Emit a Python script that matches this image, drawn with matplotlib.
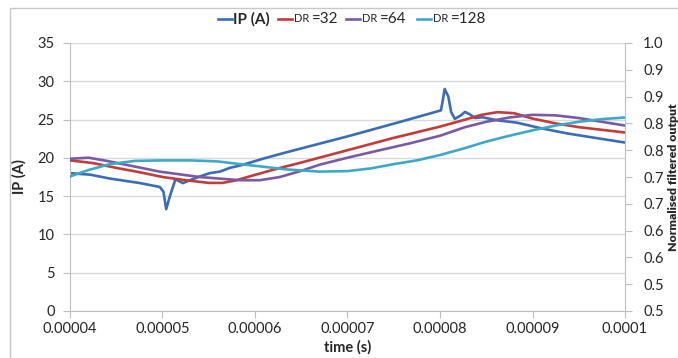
import matplotlib
matplotlib.use("Agg")
import matplotlib.pyplot as plt
from matplotlib.patches import Rectangle
from matplotlib.lines import Line2D

plt.rcParams['font.family'] = ['Lato', 'DejaVu Sans']

# Probe current (primary axis)
ip_time = [4.00e-5, 4.22e-5, 4.43e-5, 4.76e-5, 4.97e-5, 5.01e-5, 5.04e-5, 5.08e-5,
           5.14e-5, 5.22e-5, 5.30e-5, 5.41e-5, 5.51e-5, 5.62e-5, 5.73e-5, 5.84e-5,
           6.09e-5, 6.27e-5, 6.49e-5, 7.03e-5, 7.57e-5, 8.01e-5, 8.03e-5, 8.05e-5,
           8.09e-5, 8.12e-5, 8.16e-5, 8.22e-5, 8.27e-5, 8.32e-5, 8.38e-5, 8.46e-5,
           8.62e-5, 8.83e-5, 9.08e-5, 9.37e-5, 9.84e-5, 1.00e-4]
ip_amps = [18.0, 17.8, 17.3, 16.7, 16.2, 15.6, 13.3, 15.0,
           17.2, 16.7, 17.1, 17.6, 18.0, 18.2, 18.7, 19.0,
           19.9, 20.5, 21.2, 22.9, 24.7, 26.2, 27.5, 29.0,
           28.0, 26.0, 25.1, 25.5, 26.0, 25.7, 25.2, 25.3,
           24.9, 24.6, 23.9, 23.2, 22.3, 22.0]

# Filtered outputs (secondary axis, normalised)
dr32_time = [4.00e-5, 4.25e-5, 4.50e-5, 4.75e-5, 5.00e-5, 5.25e-5, 5.50e-5, 5.65e-5,
             5.80e-5, 6.00e-5, 6.25e-5, 6.50e-5, 7.00e-5, 7.50e-5, 8.00e-5, 8.25e-5,
             8.45e-5, 8.62e-5, 8.80e-5, 9.00e-5, 9.25e-5, 9.50e-5, 9.75e-5, 1.00e-4]
dr32 = [0.781, 0.776, 0.767, 0.759, 0.750, 0.744, 0.739, 0.739,
        0.744, 0.754, 0.766, 0.777, 0.800, 0.823, 0.844, 0.856,
        0.866, 0.871, 0.869, 0.859, 0.850, 0.843, 0.838, 0.833]

dr64_time = [4.00e-5, 4.20e-5, 4.40e-5, 4.60e-5, 4.97e-5, 5.40e-5, 5.84e-5, 6.05e-5,
             6.27e-5, 6.49e-5, 6.70e-5, 7.00e-5, 7.35e-5, 7.68e-5, 8.00e-5, 8.27e-5,
             8.50e-5, 8.75e-5, 9.00e-5, 9.25e-5, 9.50e-5, 9.75e-5, 1.00e-4]
dr64 = [0.784, 0.786, 0.780, 0.773, 0.760, 0.750, 0.744, 0.744,
        0.750, 0.761, 0.773, 0.786, 0.800, 0.813, 0.827, 0.843,
        0.853, 0.861, 0.866, 0.865, 0.860, 0.853, 0.846]

dr128_time = [4.00e-5, 4.20e-5, 4.43e-5, 4.70e-5, 5.00e-5, 5.30e-5, 5.60e-5, 5.84e-5,
              6.10e-5, 6.35e-5, 6.70e-5, 7.00e-5, 7.25e-5, 7.50e-5, 7.75e-5, 8.00e-5,
              8.25e-5, 8.50e-5, 8.75e-5, 9.00e-5, 9.25e-5, 9.50e-5, 9.75e-5, 1.00e-4]
dr128 = [0.751, 0.763, 0.774, 0.780, 0.781, 0.781, 0.779, 0.774,
         0.769, 0.764, 0.760, 0.761, 0.766, 0.774, 0.781, 0.791,
         0.803, 0.816, 0.827, 0.837, 0.846, 0.853, 0.858, 0.861]

x_ticks = [4e-5, 5e-5, 6e-5, 7e-5, 8e-5, 9e-5, 1e-4]
x_labels = ['0.00004', '0.00005', '0.00006', '0.00007', '0.00008', '0.00009', '0.0001']
left_ticks = [0, 5, 10, 15, 20, 25, 30, 35]
right_ticks = [0.50, 0.55, 0.60, 0.65, 0.70, 0.75, 0.80, 0.85, 0.90, 0.95, 1.00]
right_labels = ['0.5', '0.5', '0.6', '0.6', '0.7', '0.7', '0.8', '0.8', '0.9', '0.9', '1.0']
series_names = ['IP (A)', 'DR', 'DR', 'DR']
series_suffix = ['', '=32', '=64', '=128']

BLUE = '#3A6DB5'
RED = '#C23D3A'
PURPLE = '#7A5AA3'
AQUA = '#3DA9C7'
GRID = '#D9D9D9'
AXIS = '#BFBFBF'
TEXT = '#262626'

W, H = 678, 358
fig = plt.figure(figsize=(W / 100, H / 100), dpi=100)
fig.patch.set_facecolor('white')
fig.patches.append(Rectangle((10 / W, -0.1), 1.2, 1.1 - 8 / H,
                             transform=fig.transFigure, fill=False,
                             edgecolor='#C8C8C8', linewidth=1.0))

ax = fig.add_axes([70 / W, 1 - 311 / H, 555 / W, 268 / H])
ax2 = ax.twinx()

l_ip, = ax.plot(ip_time, ip_amps, color=BLUE, lw=1.9, solid_joinstyle='round')
l32, = ax2.plot(dr32_time, dr32, color=RED, lw=1.9, solid_joinstyle='round')
l64, = ax2.plot(dr64_time, dr64, color=PURPLE, lw=1.9, solid_joinstyle='round')
l128, = ax2.plot(dr128_time, dr128, color=AQUA, lw=1.9, solid_joinstyle='round')

ax.set_xlim(4e-5, 1e-4)
ax.set_ylim(0, 35)
ax2.set_ylim(0.5, 1.0)

ax.set_xticks(x_ticks)
ax.set_xticklabels(x_labels)
ax.set_yticks(left_ticks)
ax.set_yticklabels([str(v) for v in left_ticks])
ax2.set_yticks(right_ticks)
ax2.set_yticklabels(right_labels)

ax.yaxis.grid(True, color=GRID, lw=1.0)
ax.set_axisbelow(True)

for a in (ax, ax2):
    for s in a.spines.values():
        s.set_visible(False)
ax.spines['left'].set_visible(True)
ax.spines['left'].set_color(AXIS)
ax.spines['bottom'].set_visible(True)
ax.spines['bottom'].set_color(AXIS)
ax2.spines['right'].set_visible(True)
ax2.spines['right'].set_color(AXIS)

ax.tick_params(axis='both', direction='out', length=5, color=AXIS,
               labelcolor=TEXT, labelsize=10.5, pad=6)
ax.tick_params(axis='x', pad=3)
ax2.tick_params(axis='y', direction='out', length=5, color=AXIS,
                labelcolor=TEXT, labelsize=10.5, pad=8)

ax.set_xlabel('time (s)', fontsize=10.5, fontweight='bold', color=TEXT, labelpad=3)
ax.set_ylabel('IP (A)', fontsize=10.5, fontweight='bold', color=TEXT, labelpad=8)
ax2.set_ylabel('Normalised filtered output', fontsize=8.8, fontweight='heavy',
               color=TEXT, labelpad=3)

# Legend row along the top: short handle, name, then the DR value in larger type
handles = [l_ip, l32, l64, l128]
handle_x = [218, 278, 346, 417]
ly = 1 - 19 / H
for h, hx, name, suffix in zip(handles, handle_x, series_names, series_suffix):
    fig.add_artist(Line2D([hx / W, (hx + 14) / W], [ly, ly],
                          transform=fig.transFigure,
                          color=h.get_color(), lw=1.9))
    if suffix:
        t = fig.text((hx + 16) / W, ly, name, fontsize=8, color=TEXT,
                     ha='left', va='center')
        fig.canvas.draw()
        bb = t.get_window_extent()
        fig.text((bb.x1 + 3) / W, ly, suffix, fontsize=11, color=TEXT,
                 ha='left', va='center')
    else:
        fig.text((hx + 15) / W, ly, name, fontsize=11, color=TEXT,
                 fontweight='bold', ha='left', va='center')

fig.savefig('out.png', dpi=100, facecolor='white')
